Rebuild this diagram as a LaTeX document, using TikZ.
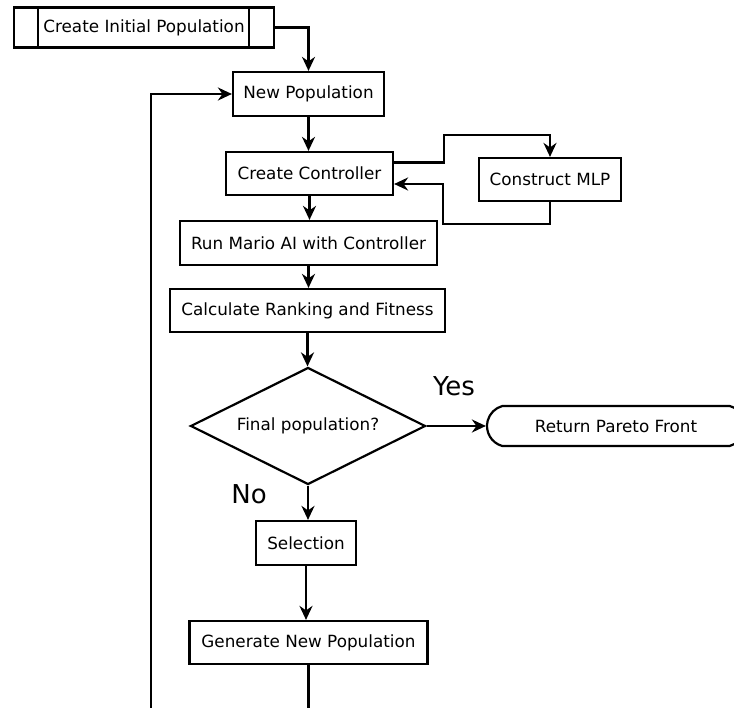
\documentclass[tikz,border=0pt]{standalone}
\usepackage{fontspec}
\setmainfont{DejaVu Sans}
\usetikzlibrary{arrows.meta,shapes.geometric,shapes.misc}
\begin{document}
\begin{tikzpicture}[x=1pt,y=-1pt,
  font=\fontsize{16.8}{20}\selectfont,
  line width=2.2pt,
  box/.style={draw,rectangle,inner sep=0pt},
  flow/.style={-{Stealth[length=14pt,width=13pt,inset=4.5pt]}},
  big/.style={font=\fontsize{26}{30}\selectfont}]
\useasboundingbox (0,0) rectangle (734,708);
\clip (0,0) rectangle (734,708);

% boxes
\node[box,minimum width=260pt,minimum height=40pt] (init) at (144,27.5) {Create Initial Population};
\draw ([xshift=25pt]init.north west) -- ([xshift=25pt]init.south west);
\draw ([xshift=-26pt]init.north east) -- ([xshift=-26pt]init.south east);

\node[box,minimum width=151pt,minimum height=44pt] (newpop) at (308.5,94) {New Population};
\node[box,minimum width=167pt,minimum height=43pt] (ctrl) at (309.5,173.5) {Create Controller};
\node[box,minimum width=142pt,minimum height=43pt] (mlp) at (550,179.5) {Construct MLP};
\node[box,minimum width=257pt,minimum height=44pt] (mario) at (308.5,243) {Run Mario AI with Controller};
\node[box,minimum width=275pt,minimum height=43pt] (rank) at (307.5,310.5) {Calculate Ranking and Fitness};
\node[draw,diamond,shape aspect=2.01,inner sep=0pt,minimum width=235pt,minimum height=117pt] (final) at (308,426) {Final population?};
\node[draw,rounded rectangle,rounded rectangle arc length=150,inner sep=0pt,minimum width=258pt,minimum height=40pt] (pareto) at (616,426) {Return Pareto Front};
\node[box,minimum width=100pt,minimum height=44pt] (sel) at (306,543) {Selection};
\node[box,minimum width=238pt,minimum height=43pt] (gen) at (308.5,642.5) {Generate New Population};

% labels
\node[big] (yes) at (454,386) {Yes};
\node[big] (no) at (249,494) {No};

% connectors
\draw[flow] (init.east) -| (newpop.north);
\draw[flow] (newpop.south) -- (newpop.south |- ctrl.north);
\draw[flow] ([yshift=11pt]ctrl.east) -- ++(50,0) |- (550,135) -- (mlp.north);
\draw[flow] (mlp.south) -- ++(0,22) -| (443,184) -- ([yshift=-10.5pt]ctrl.east);
\draw[flow] (ctrl.south) -- (mario.north -| ctrl.south);
\draw[flow] (mario.south) -- (rank.north -| mario.south);
\draw[flow] (rank.south) -- (final.north -| rank.south);
\draw[flow] (final.east) -- (pareto.west);
\draw[flow] (final.south) -- (sel.north -| final.south);
\draw[flow] (sel.south) -- (gen.north -| sel.south);
\draw[flow] (gen.south) -- (308.5,730) -- (151,730) |- (newpop.west);
\end{tikzpicture}
\end{document}
